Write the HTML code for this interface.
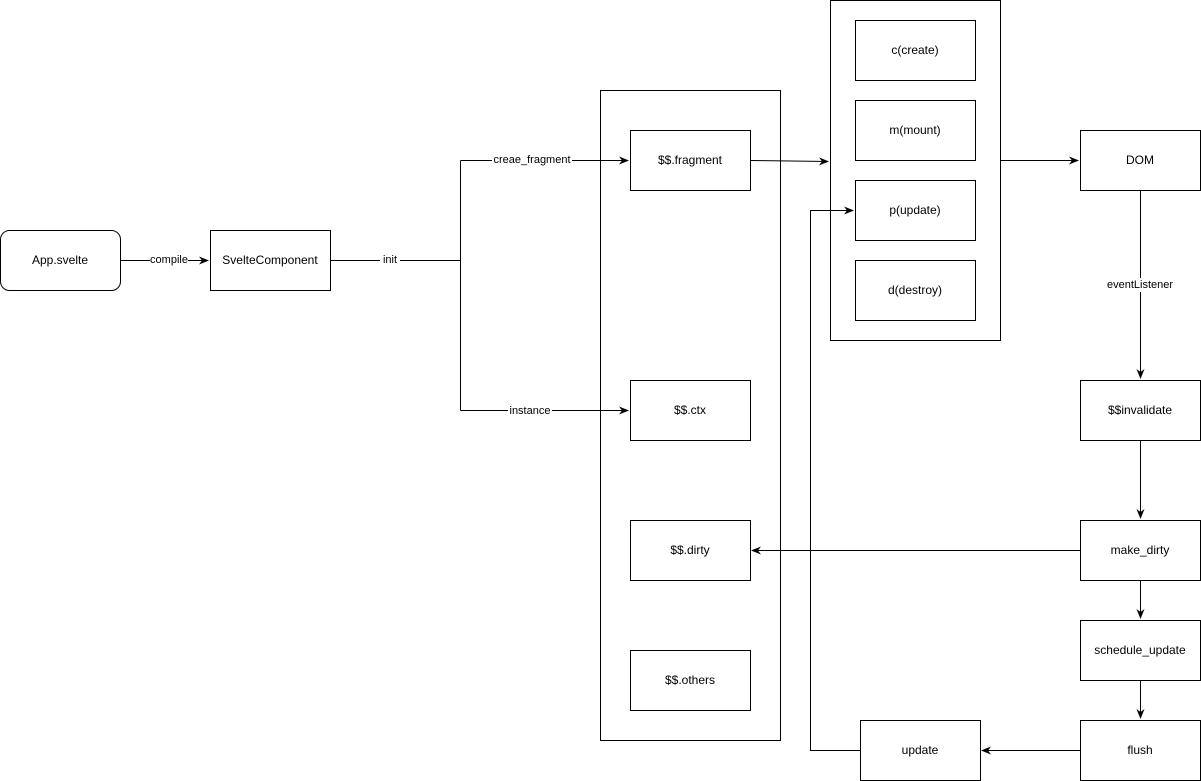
<!DOCTYPE html>
<html><head><style>html,body{margin:0;padding:0;background:#fff}svg{display:block}text{font-family:"Liberation Sans",Arial,sans-serif;font-size:12px;fill:#000}</style></head>
<body>
<svg width="1201" height="781" viewBox="0 0 1201 781" xmlns="http://www.w3.org/2000/svg">
<defs><marker id="a" markerWidth="10" markerHeight="8" refX="9" refY="4" orient="auto" markerUnits="userSpaceOnUse"><path d="M0,0 L10,4 L0,8 L3,4 Z" fill="#000"/></marker></defs>
<g fill="none" stroke="#000" stroke-width="1">
<rect x="0.5" y="230.5" width="120" height="60" rx="9"/>
<rect x="210.5" y="230.5" width="120" height="60"/>
<rect x="600.5" y="90.5" width="180" height="650"/>
<rect x="630.5" y="130.5" width="120" height="60"/>
<rect x="630.5" y="380.5" width="120" height="60"/>
<rect x="630.5" y="520.5" width="120" height="60"/>
<rect x="630.5" y="650.5" width="120" height="60"/>
<rect x="830.5" y="0.5" width="170" height="340"/>
<rect x="855.5" y="20.5" width="120" height="60"/>
<rect x="855.5" y="100.5" width="120" height="60"/>
<rect x="855.5" y="180.5" width="120" height="60"/>
<rect x="855.5" y="260.5" width="120" height="60"/>
<rect x="1080.5" y="130.5" width="120" height="60"/>
<rect x="1080.5" y="380.5" width="120" height="60"/>
<rect x="1080.5" y="520.5" width="120" height="60"/>
<rect x="1080.5" y="620.5" width="120" height="60"/>
<rect x="1080.5" y="720.5" width="120" height="60"/>
<rect x="860.5" y="720.5" width="120" height="60"/>
<path d="M120.5,260.5 H208" marker-end="url(#a)"/>
<path d="M330.5,260.5 H460.5"/>
<path d="M460.5,160.5 V410.5"/>
<path d="M460.5,160.5 H628" marker-end="url(#a)"/>
<path d="M460.5,410.5 H628" marker-end="url(#a)"/>
<path d="M750.5,160.5 L828,161.5" marker-end="url(#a)"/>
<path d="M1000.5,160.5 H1078" marker-end="url(#a)"/>
<path d="M1140.5,190.5 V378" marker-end="url(#a)"/>
<path d="M1140.5,440.5 V518" marker-end="url(#a)"/>
<path d="M1080.5,550.5 H752" marker-end="url(#a)"/>
<path d="M1140.5,580.5 V618" marker-end="url(#a)"/>
<path d="M1140.5,680.5 V718" marker-end="url(#a)"/>
<path d="M1080.5,750.5 H982" marker-end="url(#a)"/>
<path d="M860.5,750.5 H810.5 V210.5 H853" marker-end="url(#a)"/>
</g>
<g text-anchor="middle" dominant-baseline="central">
<rect x="150" y="253" width="38" height="14" fill="#fff"/><text x="169" y="260" style="font-size:11px">compile</text>
<rect x="380" y="253" width="20" height="14" fill="#fff"/><text x="390" y="260" style="font-size:11px">init</text>
<rect x="492" y="153" width="80" height="14" fill="#fff"/><text x="532" y="160" style="font-size:11px">creae_fragment</text>
<rect x="508" y="403" width="44" height="14" fill="#fff"/><text x="530" y="411" style="font-size:11px">instance</text>
<rect x="1104" y="278" width="72" height="14" fill="#fff"/><text x="1140" y="285" style="font-size:11px">eventListener</text>
<text x="60" y="260">App.svelte</text>
<text x="270" y="260">SvelteComponent</text>
<text x="690" y="160">$$.fragment</text>
<text x="690" y="410">$$.ctx</text>
<text x="690" y="550">$$.dirty</text>
<text x="690" y="680">$$.others</text>
<text x="915" y="50">c(create)</text>
<text x="915" y="130">m(mount)</text>
<text x="915" y="210">p(update)</text>
<text x="915" y="290">d(destroy)</text>
<text x="1140" y="160">DOM</text>
<text x="1140" y="410">$$invalidate</text>
<text x="1140" y="550">make_dirty</text>
<text x="1140" y="650">schedule_update</text>
<text x="1140" y="750">flush</text>
<text x="920" y="750">update</text>
</g>
</svg>
</body></html>
